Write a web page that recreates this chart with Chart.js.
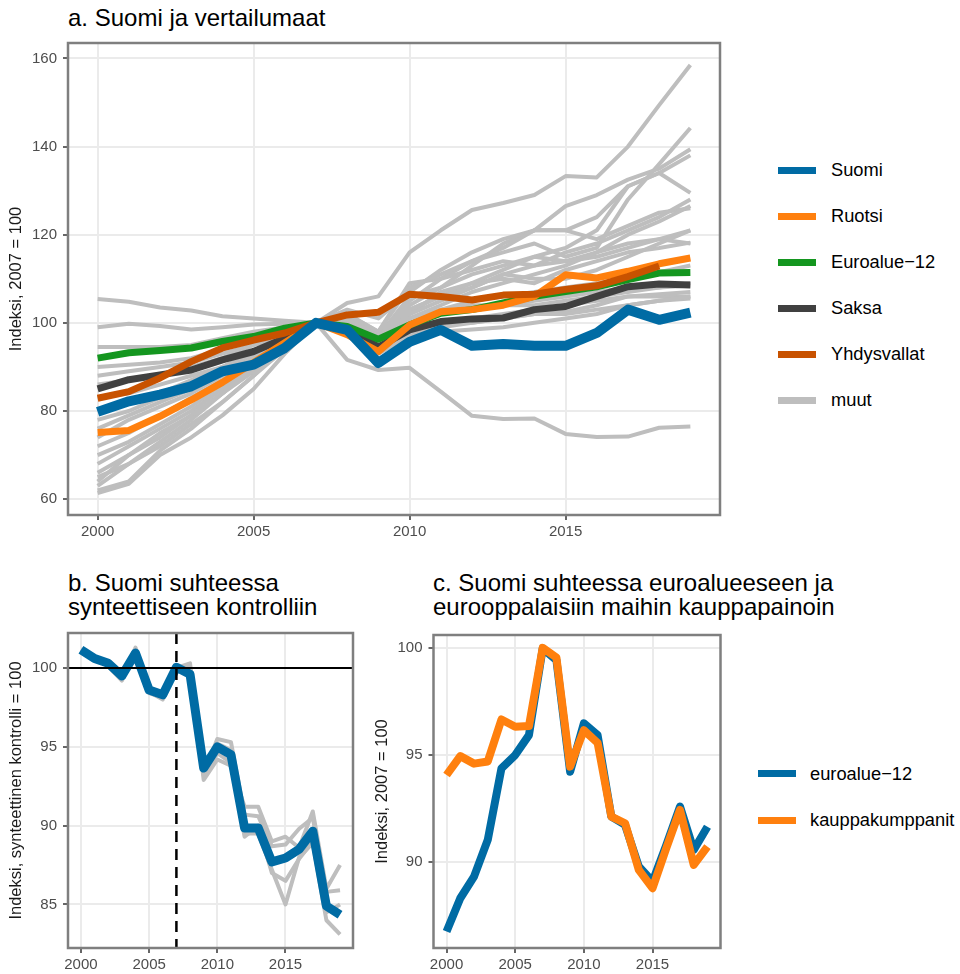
<!DOCTYPE html>
<html>
<head>
<meta charset="utf-8">
<script src="https://cdn.jsdelivr.net/npm/chart.js@4.4.1/dist/chart.umd.min.js"></script>
<style>
  html, body { margin:0; padding:0; background:#fff; }
  body { width:960px; height:974px; position:relative; overflow:hidden; font-family:"Liberation Sans", Arial, sans-serif; }
  canvas { position:absolute; }
  .ttl { position:absolute; font-size:24px; line-height:24px; color:#000; white-space:nowrap; }
  .leg { position:absolute; font-size:18.3px; color:#000; white-space:nowrap; }
  .key { position:absolute; height:7px; width:38px; }
</style>
</head>
<body>
<div class="ttl" style="left:68px; top:6px;">a. Suomi ja vertailumaat</div>
<div class="ttl" style="left:68px; top:571px;">b. Suomi suhteessa<br>synteettiseen kontrolliin</div>
<div class="ttl" style="left:433px; top:571px;">c. Suomi suhteessa euroalueeseen ja<br>eurooppalaisiin maihin kauppapainoin</div>

<canvas id="ca" width="730" height="560" style="left:0; top:0;"></canvas>
<canvas id="cb" width="360" height="374" style="left:0; top:600px;"></canvas>
<canvas id="cc" width="360" height="374" style="left:370px; top:600px;"></canvas>

<div id="legA"></div>
<div id="legC"></div>

<script>
// ---------------- DATA ----------------
const years = [2000,2001,2002,2003,2004,2005,2006,2007,2008,2009,2010,2011,2012,2013,2014,2015,2016,2017,2018,2019];
const xTicks = [2000,2005,2010,2015];

// Panel a
const yTicksA = [60,80,100,120,140,160];
const suomiA      = [79.8,82.2,83.7,85.6,89.0,90.5,94.3,100,98.4,90.9,95.7,98.4,94.8,95.2,94.8,94.8,97.7,103.0,100.7,102.3];
const ruotsiA     = [75.1,75.6,78.8,82.5,86.5,91.0,95.5,100,97.3,93.5,99.5,102.5,103.0,104.0,106.0,110.9,110.2,111.7,113.4,114.7];
const euroalueA   = [92.0,93.2,93.7,94.3,95.8,96.9,98.8,100,99.2,96.3,99.5,102.2,103.0,104.5,106.0,107.1,108.2,109.8,111.3,111.4];
const saksaA      = [85.0,87.1,88.2,89.3,91.6,93.5,96.5,100,98.7,94.5,98.4,100.3,100.9,101.1,103.0,103.7,106.0,108.2,108.8,108.6];
const yhdysvallatA= [82.9,84.4,87.5,91.2,94.3,96.1,97.7,100,101.8,102.4,106.5,106.0,105.2,106.3,106.5,107.6,108.4,110.5,112.9,null];
const muutA = [
  [62,64,71,76,82,88,95,100,104.5,106,116,121,125.6,127.2,129,133.3,133,140,149.4,158.5],
  [64,70,74,79,84,90,96,100,102,98,108,111,114,116,118,115,117,128,136,144.2],
  [68,72,76,80,85,91,96,100,102,97,105,110,114,117,121,126.5,129,132.5,135,139.4],
  [70,73,77,81,86,91,96,100,101,96,104,108,113,118,121,121,124,131,134,138],
  [66,70,75,79,84,90,95,100,101,97,106,108,111,113,115,117,121,131,134,129.5],
  [72,75,79,83,87,92,96,100,101,96,103,106,108,111,113,116,118,121,124,128],
  [74,78,81,84,88,92,96,100,100.5,95,101,104,107,109,111,113,116,120,123,126.5],
  [76,79,82,85,89,93,97,100,100.5,95,102,105,108,111,110,110,112,115,118,121],
  [78,80,83,86,89,93,97,100,100,96,102,107,109,110,109,112,114,116,117,118.2],
  [80,82,84,87,90,93,96,100,99.5,95,100,103,105,106,107,108,109,110,111.5,113],
  [86,87,88,90,92,95,97,100,100,94,98,100,100,101,102,102,103,104,105,106],
  [88,89,90,91,93,95,97,100,99,93,97,98,98.5,99,100,101,102,104,105,105.5],
  [90,90.5,91,92,94,96,98,100,99,94,98,99,100,101,102,102.5,104,106,106.5,107],
  [99,99.8,99.3,98.5,99,99.6,99.8,100,91.6,89.3,89.8,84.4,78.9,78.2,78.3,74.8,74.1,74.2,76.2,76.5],
  [105.4,104.8,103.5,102.8,101.5,101,100.5,100,98,93,100,102,103,104,104,105,106,107,108,109],
  [94.5,94.5,94.5,95,96.5,98,99,100,101,97,101,103,104,104,105,106,107,108,108,108.5],
  [61.4,63.5,70,74,79,85,93,100,103,101,107,112,116,119,121,121,119,122,125,126],
  [63,68,73,78,84,89,95,100,102,98,109,110,112,114,113,114,115,117,119,121],
  [65,68,72,77,82,88,94,100,100,96,103,106,109,112,115,114,116,118,119,118],
  [83,84,86,88,90,93,96,100,99,94,97,100,101,102,103,104,105,106,106,106]
];
const legendA = ["Suomi","Ruotsi","Euroalue\u221212","Saksa","Yhdysvallat","muut"];

// Panel b
const yTicksB = [85,90,95,100];
const baselineB = 100;
const treatmentYear = 2007;
const suomiB = [101.16,100.6,100.3,99.5,100.95,98.6,98.3,100.05,99.6,93.65,95.0,94.5,89.85,89.85,87.7,87.95,88.5,89.65,84.9,84.35];
const kontrollitB = [
  [101.0,100.5,100.2,99.3,101.3,98.5,98.0,100.0,100.3,92.9,94.2,93.8,91.2,91.2,89.0,89.3,88.6,90.9,86.0,87.5],
  [101.1,100.6,100.3,99.6,100.9,98.7,98.4,100.1,100.0,93.3,95.5,95.3,90.7,90.6,88.7,88.8,89.8,90.5,85.8,85.9],
  [101.2,100.7,100.1,99.2,101.1,98.4,98.1,99.9,99.7,93.6,95.2,94.8,89.5,89.5,87.2,85.0,88.0,88.9,84.0,83.1],
  [101.0,100.5,100.2,99.4,101.0,98.6,98.2,100.0,99.5,93.2,94.6,94.0,89.3,90.0,87.0,86.5,87.9,89.0,84.5,85.0]
];

// Panel c
const yTicksC = [90,95,100];
const euroalueC = [86.77,88.32,89.33,91.04,94.38,95.0,95.93,99.97,99.43,94.22,96.48,95.93,92.13,91.74,89.8,89.1,90.8,92.6,90.57,91.66];
const kauppaC   = [94.07,94.95,94.6,94.7,96.66,96.32,96.35,100,99.55,94.46,96.16,95.57,92.13,91.82,89.64,88.79,90.65,92.44,89.88,90.73];
const legendC = ["euroalue\u221212","kauppakumppanit"];

// ---------------- STYLE ----------------
const C = { suomi:'#006BA4', ruotsi:'#FF800E', euro:'#14961f', saksa:'#404040', usa:'#C85200', muut:'#BEBEBE' };
const FONT = '"Liberation Sans", Arial, sans-serif';
const X_MIN = 1999.05, X_MAX = 2019.95;
const TICK_SIZE = 15, AXIS_TITLE_SIZE = 16.5;

function pts(arr){ return years.map((y,i)=>({x:y, y:arr[i]})); }
function ds(arr, color, width, order){
  return { data: pts(arr), borderColor: color, borderWidth: width, pointRadius: 0, tension: 0,
           borderJoinStyle:'round', borderCapStyle:'butt', fill:false, order: order, spanGaps:false };
}

const boxPlugin = {
  id:'box',
  afterDraw(chart){
    const a = chart.chartArea, ctx = chart.ctx;
    ctx.save();
    ctx.strokeStyle = '#7f7f7f';
    ctx.lineWidth = 2.5;
    ctx.strokeRect(a.left, a.top, a.right - a.left, a.bottom - a.top);
    ctx.restore();
  }
};

function makeScales(yMin, yMax, yTicks, yTitle, yWidth, xHeight, titlePad){
  return {
    x: {
      type:'linear', min:X_MIN, max:X_MAX,
      afterBuildTicks: s => { s.ticks = xTicks.map(v => ({value:v})); },
      afterFit: s => { s.height = xHeight; },
      grid: { color:'#ebebeb', lineWidth:2, drawTicks:true, tickLength:5, tickColor:'#333333', tickWidth:1.5 },
      border: { display:false },
      ticks: { color:'#4d4d4d', font:{ family:FONT, size:TICK_SIZE }, padding:3, maxRotation:0, autoSkip:false,
               callback: v => String(v) }
    },
    y: {
      type:'linear', min:yMin, max:yMax,
      afterBuildTicks: s => { s.ticks = yTicks.map(v => ({value:v})); },
      afterFit: s => { s.width = yWidth; },
      grid: { color:'#ebebeb', lineWidth:2, drawTicks:true, tickLength:5, tickColor:'#333333', tickWidth:1.5 },
      border: { display:false },
      ticks: { color:'#4d4d4d', font:{ family:FONT, size:TICK_SIZE }, padding:6, autoSkip:false,
               callback: v => String(v) },
      title: { display:true, text:yTitle, color:'#1a1a1a', font:{ family:FONT, size:AXIS_TITLE_SIZE }, padding:{top:titlePad, bottom:0} }
    }
  };
}

const baseOpts = {
  responsive:false, animation:false, devicePixelRatio:1,
  plugins:{ legend:{display:false}, tooltip:{enabled:false} },
  events:[]
};

// ---------------- PANEL A ----------------
const dsA = [];
muutA.forEach(s => dsA.push(ds(s, C.muut, 4, 10)));
dsA.push(ds(saksaA, C.saksa, 7, 5));
dsA.push(ds(euroalueA, C.euro, 7, 4));
dsA.push(ds(ruotsiA, C.ruotsi, 7, 3));
dsA.push(ds(yhdysvallatA, C.usa, 7, 2));
dsA.push(ds(suomiA, C.suomi, 10, 1));

new Chart(document.getElementById('ca'), {
  type:'line',
  data:{ datasets: dsA },
  options: Object.assign({}, baseOpts, {
    layout:{ padding:{ top:43, right:10, left:0, bottom:0 } },
    scales: makeScales(56.4, 163.5, yTicksA, 'Indeksi, 2007 = 100', 68, 45, 7)
  }),
  plugins:[boxPlugin]
});

// ---------------- PANEL B ----------------
const refPlugin = {
  id:'refLines',
  afterDatasetsDraw(chart){
    const ctx = chart.ctx, a = chart.chartArea;
    const xs = chart.scales.x, ys = chart.scales.y;
    ctx.save();
    ctx.beginPath(); ctx.rect(a.left, a.top, a.right-a.left, a.bottom-a.top); ctx.clip();
    const yp = ys.getPixelForValue(baselineB);
    ctx.strokeStyle = '#000'; ctx.lineWidth = 2.2;
    ctx.beginPath(); ctx.moveTo(a.left, yp); ctx.lineTo(a.right, yp); ctx.stroke();
    const xp = xs.getPixelForValue(treatmentYear);
    ctx.setLineDash([11,7]); ctx.lineWidth = 2.5;
    ctx.beginPath(); ctx.moveTo(xp, a.top); ctx.lineTo(xp, a.bottom); ctx.stroke();
    ctx.restore();
  }
};

const dsB = [];
kontrollitB.forEach(s => dsB.push(ds(s, C.muut, 4, 10)));
dsB.push(ds(suomiB, C.suomi, 9, 1));

new Chart(document.getElementById('cb'), {
  type:'line',
  data:{ datasets: dsB },
  options: Object.assign({}, baseOpts, {
    layout:{ padding:{ top:33, right:7, left:0, bottom:0 } },
    scales: makeScales(82.24, 102.22, yTicksB, 'Indeksi, synteettinen kontrolli = 100', 68, 26, 7)
  }),
  plugins:[refPlugin, boxPlugin]
});

// ---------------- PANEL C ----------------
new Chart(document.getElementById('cc'), {
  type:'line',
  data:{ datasets: [ ds(euroalueC, C.suomi, 8, 2), ds(kauppaC, C.ruotsi, 8, 1) ] },
  options: Object.assign({}, baseOpts, {
    layout:{ padding:{ top:35, right:9.5, left:0, bottom:0 } },
    scales: makeScales(86.0, 100.6, yTicksC, 'Indeksi, 2007 = 100', 63.5, 26, 3)
  }),
  plugins:[boxPlugin]
});

// ---------------- LEGENDS ----------------
function buildLegend(el, labels, colors, keyLeft, textLeft, firstY, step){
  labels.forEach((lab, i) => {
    const cy = firstY + i*step;
    const k = document.createElement('div');
    k.className = 'key';
    k.style.left = keyLeft + 'px'; k.style.top = (cy - 3.5) + 'px'; k.style.background = colors[i];
    el.appendChild(k);
    const t = document.createElement('div');
    t.className = 'leg';
    t.textContent = lab;
    t.style.left = textLeft + 'px'; t.style.top = (cy - 11) + 'px'; t.style.lineHeight = '22px';
    el.appendChild(t);
  });
}
buildLegend(document.getElementById('legA'), legendA,
  [C.suomi, C.ruotsi, C.euro, C.saksa, C.usa, C.muut], 778, 831, 170, 46);
buildLegend(document.getElementById('legC'), legendC,
  [C.suomi, C.ruotsi], 758, 810, 773.5, 46.5);
</script>
</body>
</html>
